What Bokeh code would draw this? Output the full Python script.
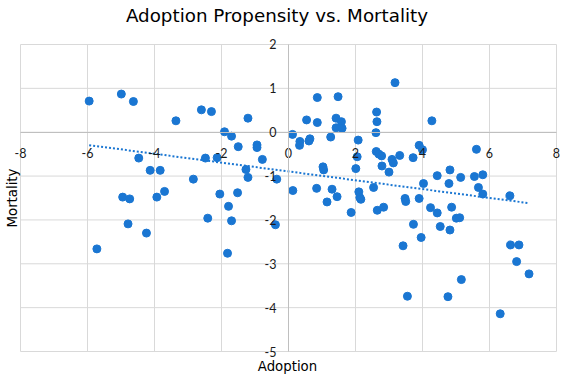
import numpy as np
from bokeh.plotting import figure
from bokeh.models import FixedTicker, Range1d, ColumnDataSource, Label
from bokeh.embed import file_html
from bokeh.resources import INLINE

# ---- data ----
adoption = [
    -5.95, -4.99, -4.63, -3.36, -2.60, -2.30, -1.21, -1.91, -1.70, -1.50,
    -0.94, -0.94, -0.78, -4.47, -2.48, -2.13, -1.27, -1.21, -4.13, -3.83,
    -2.84, -0.35, -3.70, -2.05, -1.52, -4.95, -4.74, -3.93, -1.79, -2.41,
    -1.70, -4.79, -4.24, -0.39, -5.72, -1.82,
    3.18, 0.86, 1.48, 0.54, 0.86, 1.42, 1.58, 1.42, 1.60, 2.63,
    2.64, 2.61, 0.12, 0.34, 0.33, 0.64, 0.61, 1.26, 2.08, 2.05,
    2.62, 2.70, 2.78, 3.09, 3.13, 3.32, 3.72, 3.90, 4.00, 4.28,
    5.61, 1.03, 1.05, 2.01, 2.79, 3.00, 4.44, 4.82, 5.14, 5.55,
    5.80, 4.03, 4.79, 5.67, 5.80, 6.61, 0.13, 0.84, 1.30, 1.45,
    1.15, 2.10, 2.13, 2.16, 2.54, 3.48, 3.50, 3.90, 1.87, 2.65,
    2.84, 4.24, 4.44, 4.87, 5.01, 5.11, 4.53, 4.82, 3.73, 3.96,
    3.42, 6.63, 6.88, 6.81, 7.18, 5.16, 3.55, 4.76, 6.32,
]
mortality = [
    0.71, 0.87, 0.70, 0.26, 0.51, 0.47, 0.32, 0.01, -0.09, -0.33,
    -0.29, -0.35, -0.62, -0.59, -0.59, -0.58, -0.85, -1.03, -0.87, -0.87,
    -1.07, -1.07, -1.35, -1.41, -1.38, -1.48, -1.52, -1.48, -1.69, -1.96,
    -2.02, -2.09, -2.30, -2.11, -2.66, -2.76,
    1.13, 0.79, 0.81, 0.28, 0.22, 0.32, 0.24, 0.10, 0.09, 0.46,
    0.24, -0.01, -0.05, -0.21, -0.30, -0.15, -0.20, -0.11, -0.18, -0.56,
    -0.44, -0.50, -0.54, -0.62, -0.70, -0.53, -0.58, -0.30, -0.40, 0.26,
    -0.39, -0.79, -0.86, -0.83, -0.77, -0.91, -0.99, -0.86, -1.03, -1.01,
    -0.97, -1.17, -1.17, -1.26, -1.41, -1.45, -1.33, -1.28, -1.30, -1.47,
    -1.59, -1.36, -1.49, -1.53, -1.26, -1.51, -1.58, -1.51, -1.83, -1.78,
    -1.71, -1.72, -1.84, -1.71, -1.96, -1.95, -2.15, -2.23, -2.10, -2.40,
    -2.59, -2.57, -2.57, -2.95, -3.23, -3.36, -3.74, -3.75, -4.14,
]
x_ticks = [-8, -6, -4, -2, 0, 2, 4, 6, 8]
x_tick_labels = ["-8", "-6", "-4", "-2", "0", "2", "4", "6", "8"]
y_ticks = [-5, -4, -3, -2, -1, 0, 1, 2]
y_tick_labels = ["-5", "-4", "-3", "-2", "-1", "0", "1", "2"]

title_text = "Adoption Propensity vs. Mortality"
x_title = "Adoption"
y_title = "Mortality"

# ---- styling / layout ----
BLUE = "#1a76d2"
GRID = "#d9d9d9"
AXIS = "#bfbfbf"
TITLE_FONT = "DejaVu Sans"
TICK_FONT = "Lato"

x_lo, x_hi = x_ticks[0], x_ticks[-1]
y_lo, y_hi = y_ticks[0], y_ticks[-1]
# plot frame fills the whole canvas; the padding leaves room for the texts
x_range = Range1d(x_lo - 0.597, x_hi + 0.269)
y_range = Range1d(y_lo - 0.661, y_hi + 1.003)

p = figure(width=565, height=380, output_backend="svg", toolbar_location=None,
           x_range=x_range, y_range=y_range,
           min_border_left=0, min_border_right=0, min_border_top=0,
           min_border_bottom=0)
p.outline_line_color = None
p.background_fill_color = "white"
p.border_fill_color = "white"
p.grid.visible = False

# grid lines limited to the axis bounds
p.segment(x0=x_ticks, x1=x_ticks, y0=[y_lo] * len(x_ticks),
          y1=[y_hi] * len(x_ticks), line_color=GRID, line_width=1)
p.segment(x0=[x_lo] * len(y_ticks), x1=[x_hi] * len(y_ticks),
          y0=y_ticks, y1=y_ticks, line_color=GRID, line_width=1)

# axes crossing at the origin
p.xaxis.fixed_location = 0
p.yaxis.fixed_location = 0
p.xaxis.bounds = (x_lo, x_hi)
p.yaxis.bounds = (y_lo, y_hi)
p.xaxis.ticker = FixedTicker(ticks=x_ticks)
p.yaxis.ticker = FixedTicker(ticks=y_ticks)
p.xaxis.major_label_overrides = {t: l for t, l in zip(x_ticks, x_tick_labels)}
p.yaxis.major_label_overrides = {t: l for t, l in zip(y_ticks, y_tick_labels)}
for ax in (p.xaxis, p.yaxis):
    ax.axis_line_color = AXIS
    ax.major_tick_line_color = None
    ax.minor_tick_line_color = None
    ax.major_label_text_font = TICK_FONT
    ax.major_label_text_font_size = "12.5px"
    ax.major_label_text_color = "#1a1a1a"
p.xaxis.major_label_standoff = 10
p.yaxis.major_label_standoff = 6

# linear trendline (least squares fit of the data)
xa = np.array(adoption)
ya = np.array(mortality)
slope, intercept = np.polyfit(xa, ya, 1)
tx = np.array([xa.min(), xa.max()])
p.line(tx, slope * tx + intercept, line_color=BLUE, line_width=2,
       line_dash="2 2")

src = ColumnDataSource(dict(x=adoption, y=mortality))
p.scatter("x", "y", source=src, size=8, fill_color=BLUE, line_color=BLUE)

# titles
p.add_layout(Label(x=0, y=y_hi, x_offset=-11.5, y_offset=29, text=title_text,
                   text_font=TITLE_FONT, text_font_size="18.3px",
                   text_color="#000000", text_align="center",
                   text_baseline="middle"))
p.add_layout(Label(x=0, y=y_lo, x_offset=-1, y_offset=-15, text=x_title,
                   text_font=TITLE_FONT, text_font_size="13.3px",
                   text_color="#000000", text_align="center",
                   text_baseline="middle"))
p.add_layout(Label(x=x_lo, y=(y_lo + y_hi) / 2, x_offset=-8, text=y_title,
                   angle=np.pi / 2, text_font=TITLE_FONT,
                   text_font_size="13.3px", text_color="#000000",
                   text_align="center", text_baseline="middle"))

open("out.html", "w").write(file_html(p, INLINE))
